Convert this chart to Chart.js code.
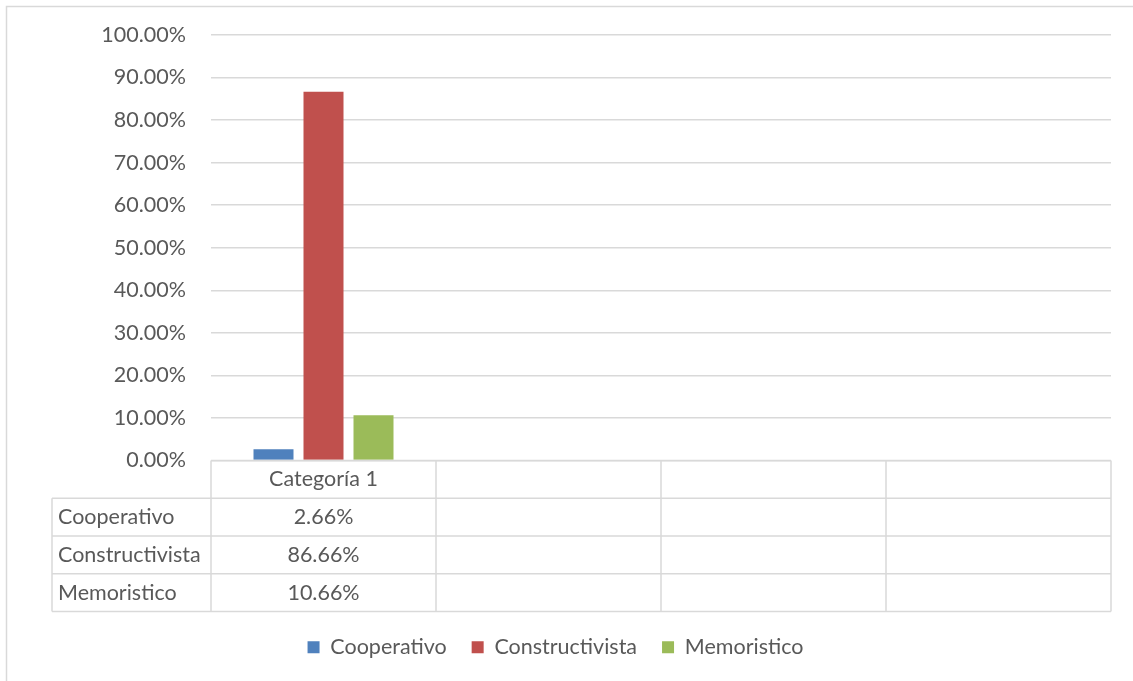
<!DOCTYPE html>
<html>
<head>
<meta charset="utf-8">
<script src="https://cdn.jsdelivr.net/npm/chart.js@4"></script>
<style>
  html, body { margin: 0; padding: 0; background: #fff; }
  #wrap { width: 1133px; height: 681px; position: relative; }
</style>
</head>
<body>
<div id="wrap"><canvas id="c" width="1133" height="681"></canvas></div>
<script>
const categories = ['Categoría 1', '', '', ''];
const seriesNames = ['Cooperativo', 'Constructivista', 'Memoristico'];
const cooperativo = [2.66, null, null, null];
const constructivista = [86.66, null, null, null];
const memoristico = [10.66, null, null, null];
const seriesColors = ['#4F81BD', '#C0504D', '#9BBB59'];
const yTicks = { min: 0, max: 100, step: 10 };

const FONT = 'Lato, Carlito, "Open Sans", sans-serif';
const FS = 21.5;
const TXT = '#595959';
const LINE = '#d9d9d9';

const fmt = v => (v == null ? '' : v.toFixed(2) + '%');

const frame = {
  id: 'frame',
  beforeDraw(chart) {
    const ctx = chart.ctx;
    ctx.save();
    ctx.fillStyle = '#fff';
    ctx.fillRect(0, 0, chart.width, chart.height);
    ctx.strokeStyle = LINE;
    ctx.lineWidth = 1.5;
    ctx.strokeRect(6.5, 6.5, chart.width + 20, chart.height + 20);
    ctx.restore();
  }
};

const dataTable = {
  id: 'dataTable',
  afterDraw(chart) {
    const ctx = chart.ctx;
    const x = chart.scales.x;
    const area = chart.chartArea;
    const n = categories.length;
    const rows = chart.data.datasets.length + 1;
    const rowH = (x.bottom - x.top) / rows;
    const edges = [area.left];
    for (let i = 0; i < n - 1; i++) {
      edges.push((x.getPixelForValue(i) + x.getPixelForValue(i + 1)) / 2);
    }
    edges.push(area.right);
    ctx.save();
    ctx.font = FS + 'px ' + FONT;
    let maxW = 0;
    chart.data.datasets.forEach(d => { maxW = Math.max(maxW, ctx.measureText(d.label).width); });
    const labelLeft = Math.round(area.left - maxW - 16);
    const top = x.top;

    ctx.strokeStyle = LINE;
    ctx.lineWidth = 1.5;
    ctx.beginPath();
    ctx.moveTo(area.left, top); ctx.lineTo(area.right, top);
    for (let r = 1; r <= rows; r++) {
      const yy = top + r * rowH;
      ctx.moveTo(labelLeft, yy); ctx.lineTo(area.right, yy);
    }
    edges.forEach(ex => {
      ctx.moveTo(ex, top);
      ctx.lineTo(ex, top + rows * rowH);
    });
    ctx.moveTo(labelLeft, top + rowH); ctx.lineTo(labelLeft, top + rows * rowH);
    ctx.stroke();

    ctx.fillStyle = TXT;
    ctx.textBaseline = 'middle';
    ctx.textAlign = 'center';
    for (let i = 0; i < n; i++) {
      const cx = (edges[i] + edges[i + 1]) / 2;
      ctx.fillText(categories[i], cx, top + rowH / 2);
      chart.data.datasets.forEach((d, r) => {
        ctx.fillText(fmt(d.data[i]), cx, top + (r + 1.5) * rowH);
      });
    }
    ctx.textAlign = 'left';
    chart.data.datasets.forEach((d, r) => {
      ctx.fillText(d.label, labelLeft + 6, top + (r + 1.5) * rowH);
    });
    ctx.restore();
  }
};

const seriesData = [cooperativo, constructivista, memoristico];

new Chart(document.getElementById('c'), {
  type: 'bar',
  data: {
    labels: categories,
    datasets: seriesNames.map((name, i) => ({
      label: name,
      data: seriesData[i],
      backgroundColor: seriesColors[i],
      borderWidth: 0,
      categoryPercentage: 0.6667,
      barPercentage: 0.8
    }))
  },
  options: {
    responsive: false,
    animation: false,
    layout: { padding: { top: 35, right: 22, bottom: 13, left: 0 } },
    plugins: {
      tooltip: { enabled: false },
      legend: {
        position: 'bottom',
        labels: {
          color: TXT,
          font: { family: FONT, size: FS },
          boxWidth: 12,
          boxHeight: 12,
          padding: 25
        }
      }
    },
    scales: {
      x: {
        grid: { display: false },
        border: { display: false },
        ticks: { display: false },
        afterFit(s) { s.height = 151; }
      },
      y: {
        min: yTicks.min,
        max: yTicks.max,
        ticks: {
          stepSize: yTicks.step,
          color: TXT,
          font: { family: FONT, size: FS },
          padding: 25,
          callback: v => v.toFixed(2) + '%'
        },
        grid: { color: LINE, lineWidth: 1.5, drawTicks: false },
        border: { display: false },
        afterFit(s) { s.width = 211; s.paddingTop = 0; }
      }
    }
  },
  plugins: [frame, dataTable]
});
</script>
</body>
</html>
